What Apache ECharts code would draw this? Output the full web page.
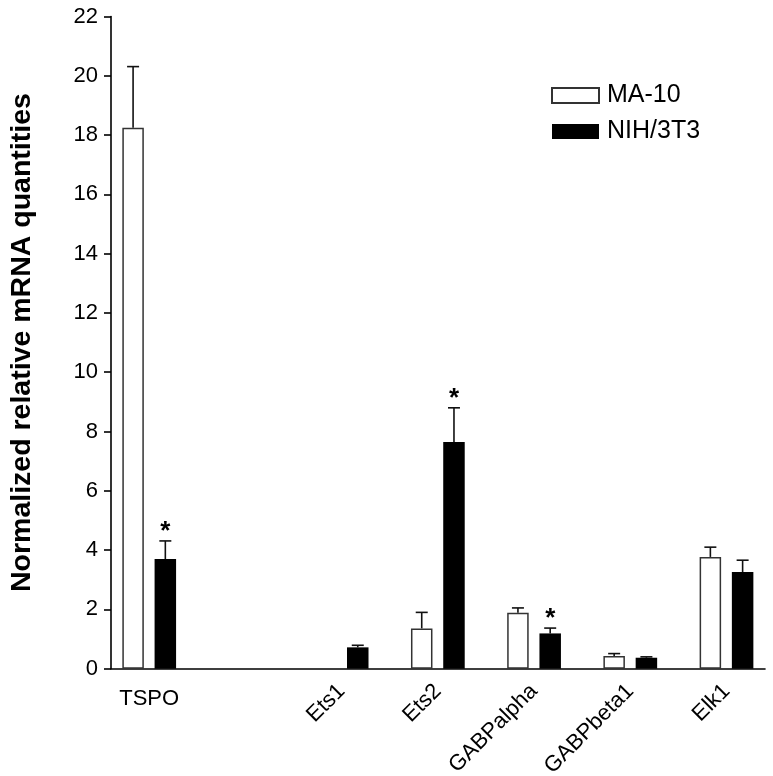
<!DOCTYPE html>
<html>
<head>
<meta charset="utf-8">
<script src="https://cdn.jsdelivr.net/npm/echarts@6/dist/echarts.min.js"></script>
<style>html,body{margin:0;padding:0;background:#fff}#chart{width:773px;height:776px}</style>
</head>
<body>
<div id="chart"></div>
<script>
const categories = ['TSPO', '', 'Ets1', 'Ets2', 'GABPalpha', 'GABPbeta1', 'Elk1'];
const ma10Values = [18.25, null, null, 1.36, 1.89, 0.43, 3.77];
const ma10Errors = [2.06, null, null, 0.54, 0.16, 0.08, 0.33];
const nihValues = [3.70, null, 0.72, 7.65, 1.19, 0.37, 3.26];
const nihErrors = [0.61, null, 0.07, 1.15, 0.18, 0.03, 0.40];
const nihSignificant = [1, 0, 0, 1, 1, 0, 0];
const yTicks = { min: 0, max: 22, interval: 2 };

const FONT = 'Liberation Sans, Arial, Helvetica, sans-serif';
const BAR_W = 21.5;
const BAR_GAP = 0.5;
const TOP = 16.5, BOTTOM = 107.3;

function errData(vals, errs, sig) {
  const out = [];
  vals.forEach((v, i) => {
    if (v != null && errs[i] != null) out.push([i, v, errs[i], sig ? sig[i] : 0]);
  });
  return out;
}
function errSeries(name, data, side) {
  return {
    type: 'custom', name: name + '-err', xAxisIndex: 0, yAxisIndex: 1, z: 5,
    silent: true, legendHoverLink: false,
    data: data,
    renderItem: function (params, api) {
      const i = api.value(0), v = api.value(1), e = api.value(2), s = api.value(3);
      const b = api.coord([i, v]);
      const t = api.coord([i, v + e]);
      const off = side * BAR_W * (1 + BAR_GAP) / 2;
      const cx = b[0] + off;
      const st = { stroke: '#111', lineWidth: 1.6 };
      const children = [
        { type: 'line', shape: { x1: cx, y1: b[1], x2: cx, y2: t[1] }, style: st },
        { type: 'line', shape: { x1: cx - 6, y1: t[1], x2: cx + 6, y2: t[1] }, style: st }
      ];
      if (s) {
        children.push({ type: 'text', x: cx, y: t[1] + 4, style: {
          text: '*', fill: '#000', font: 'bold 26px ' + FONT, align: 'center', verticalAlign: 'bottom'
        }});
      }
      return { type: 'group', children: children };
    }
  };
}

const chart = echarts.init(document.getElementById('chart'), null, { renderer: 'canvas' });
chart.setOption({
  animation: false,
  backgroundColor: '#fff',
  textStyle: { fontFamily: FONT },
  grid: [
    { left: 101.1, width: 673.5, top: TOP, bottom: BOTTOM, outerBoundsMode: 'none', containLabel: false },
    { left: 111, right: 8, top: TOP, bottom: BOTTOM, outerBoundsMode: 'none', containLabel: false }
  ],
  legend: {
    orient: 'vertical', left: 551, top: 83, padding: 0,
    itemWidth: 47, itemHeight: 15, itemGap: 11,
    icon: 'rect',
    textStyle: { fontSize: 25, color: '#000', fontFamily: FONT, padding: [0, 0, 0, 3] },
    data: ['MA-10', 'NIH/3T3']
  },
  xAxis: [
    { type: 'category', gridIndex: 0, position: 'bottom', data: categories,
      axisLine: { show: false }, axisTick: { show: false },
      axisLabel: { interval: 0, margin: 19, fontSize: 22, color: '#000', fontFamily: FONT,
        formatter: (v, i) => i === 0 ? v : '' } },
    { type: 'category', gridIndex: 0, position: 'bottom', offset: 0, data: categories,
      axisLine: { show: false }, axisTick: { show: false },
      axisLabel: { interval: 0, rotate: 45, margin: 19, fontSize: 22, color: '#000', fontFamily: FONT,
        formatter: (v, i) => i === 0 ? '' : v } },
    { type: 'value', gridIndex: 1, position: 'bottom', min: 0, max: 1,
      axisLine: { show: true, lineStyle: { color: '#000', width: 1.6 } },
      axisTick: { show: false }, axisLabel: { show: false }, splitLine: { show: false } }
  ],
  yAxis: [
    { type: 'value', gridIndex: 1, min: yTicks.min, max: yTicks.max, interval: yTicks.interval,
      name: 'Normalized relative mRNA quantities', nameLocation: 'middle', nameGap: 74,
      nameTextStyle: { fontSize: 28.5, fontWeight: 'bold', color: '#000', fontFamily: FONT },
      axisLine: { show: true, lineStyle: { color: '#000', width: 1.6 } },
      axisTick: { show: true, length: 7, lineStyle: { color: '#000', width: 1.6 } },
      axisLabel: { margin: 13, fontSize: 22, color: '#000', fontFamily: FONT },
      splitLine: { show: false } },
    { type: 'value', gridIndex: 0, min: yTicks.min, max: yTicks.max, interval: yTicks.interval,
      show: false, splitLine: { show: false } }
  ],
  series: [
    { type: 'bar', name: 'MA-10', xAxisIndex: 0, yAxisIndex: 1, data: ma10Values,
      barWidth: BAR_W, barGap: (BAR_GAP * 100) + '%',
      itemStyle: { color: '#fff', borderColor: '#333', borderWidth: 1.5 } },
    { type: 'bar', name: 'NIH/3T3', xAxisIndex: 0, yAxisIndex: 1, data: nihValues,
      barWidth: BAR_W, barGap: (BAR_GAP * 100) + '%',
      itemStyle: { color: '#000', borderColor: '#000', borderWidth: 0 } },
    errSeries('MA-10', errData(ma10Values, ma10Errors, null), -1),
    errSeries('NIH/3T3', errData(nihValues, nihErrors, nihSignificant), 1)
  ]
});
</script>
</body>
</html>
